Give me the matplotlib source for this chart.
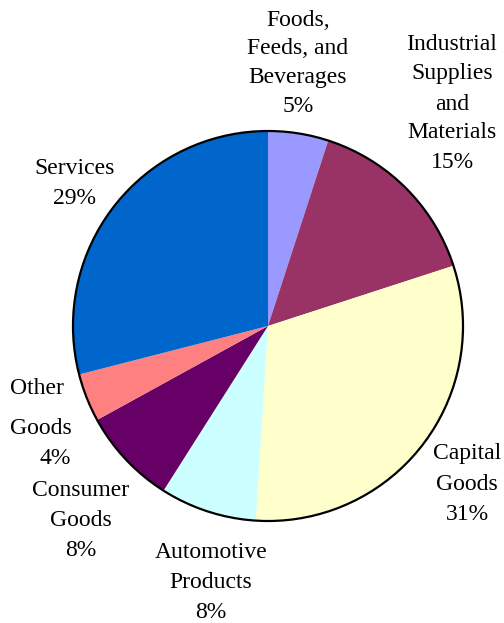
import matplotlib.pyplot as plt
from matplotlib.patches import Circle

categories = ["Foods, Feeds, and Beverages", "Industrial Supplies and Materials",
              "Capital Goods", "Automotive Products", "Consumer Goods",
              "Other Goods", "Services"]
shares = [5, 15, 31, 8, 8, 4, 29]
colors = ["#9999FF", "#993366", "#FFFFCC", "#CCFFFF", "#660066", "#FF8080", "#0066CC"]

# label lines placed by hand: (text, x, y from top, alignment); percentage goes last
label_layout = [
    ([("Foods,", 298, 20), ("Feeds, and", 298, 49), ("Beverages", 298, 78)], (298, 107), "center"),
    ([("Industrial", 452, 44), ("Supplies", 452, 74), ("and", 452, 104), ("Materials", 452, 133)], (452, 163), "center"),
    ([("Capital", 467, 453), ("Goods", 467, 484)], (467, 515), "center"),
    ([("Automotive", 211, 552), ("Products", 211, 582)], (211, 612), "center"),
    ([("Consumer", 81, 490), ("Goods", 81, 520)], (81, 550), "center"),
    ([("Other", 10, 389), ("Goods", 10, 428)], (55, 459), "left"),
    ([("Services", 75, 168)], (75, 198), "center"),
]

W, H = 504, 623
fig = plt.figure(figsize=(W / 100, H / 100), dpi=100)
ax = fig.add_axes([0, 0, 1, 1])

cx, cy, r = 268, H - 326, 195
ax.pie(shares, colors=colors, startangle=90, counterclock=False,
       center=(cx, cy), radius=r, frame=True,
       wedgeprops=dict(linewidth=0))
ax.add_patch(Circle((cx, cy), r, fill=False, edgecolor="black", linewidth=1.6))
ax.set_xlim(0, W)
ax.set_ylim(0, H)
ax.set_aspect("equal")
ax.axis("off")

font = dict(family="Liberation Serif", fontsize=17, color="black", va="center")
for (lines, pct_pos, ha), share in zip(label_layout, shares):
    for line, x, y in lines:
        ax.text(x, H - y, line, ha=ha, **font)
    ax.text(pct_pos[0], H - pct_pos[1], f"{share}%", ha="center", **font)

fig.savefig("out.png", dpi=100, facecolor="white")
